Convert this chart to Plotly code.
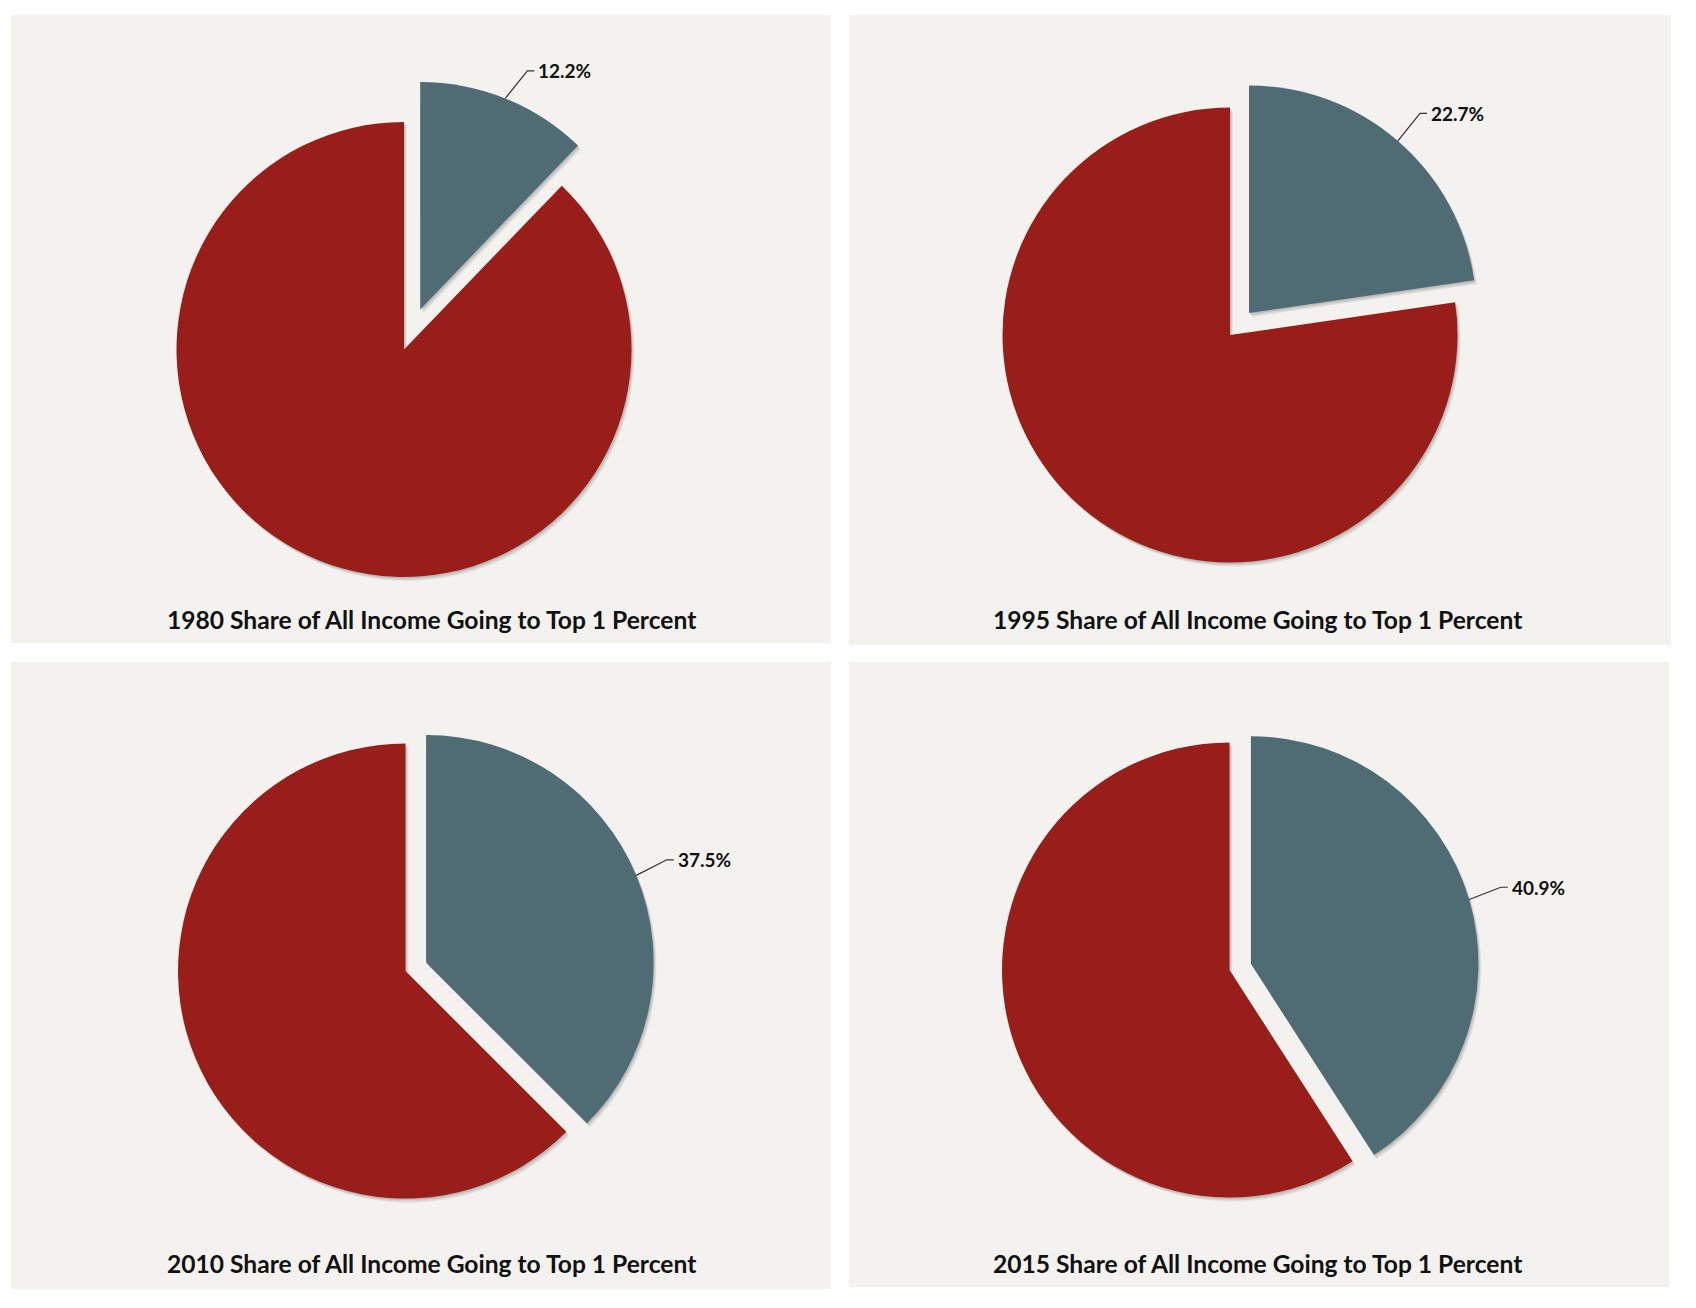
import math
import plotly.graph_objects as go

# ---- data ----
years = ["1980", "1995", "2010", "2015"]
top1_share = [12.2, 22.7, 37.5, 40.9]
rest_share = [87.8, 77.3, 62.5, 59.1]
slice_names = ["Top 1 Percent", "Everyone Else"]

# ---- layout (page pixels) ----
W, H = 1696, 1308
PAGE_OFFSET = 8  # default body margin of the html page
panels = [(11, 15, 831, 643), (849, 15, 1671, 645), (11, 662, 831, 1289), (849, 662, 1669, 1287)]
pie_centers = [(404, 349.5), (1230, 335), (405.5, 971), (1229.5, 970)]
radius = 227.5
pulls = [0.19, 0.128, 0.098, 0.098]
title_pos = [(432, 619), (1258, 619), (432, 1263), (1258, 1263)]

RED = "#991d18"
BLUE = "#4f6c75"
PANEL_BG = "#f3f2ee"
FONT = "Lato, 'Open Sans', sans-serif"

def px(x):
    return (x - PAGE_OFFSET) / W

def py(y):
    return 1 - (y - PAGE_OFFSET) / H

fig = go.Figure()
shapes = []
annotations = []

for i in range(4):
    x0, y0, x1, y1 = panels[i]
    shapes.append(dict(type="rect", xref="paper", yref="paper", layer="below",
                       x0=px(x0), x1=px(x1), y0=py(y1), y1=py(y0),
                       fillcolor=PANEL_BG, line=dict(width=0)))
    cx, cy = pie_centers[i]
    p = pulls[i]
    half = radius * (1 + p)
    vals = [top1_share[i], rest_share[i]]

    # soft shadow
    for (dx, dy, a) in [(3, 4, 0.06), (2, 3, 0.08), (1, 1.5, 0.10)]:
        fig.add_trace(go.Pie(
            values=vals, labels=slice_names, sort=False, direction="clockwise", rotation=0,
            pull=[p, 0], textinfo="none", hoverinfo="skip", showlegend=False,
            marker=dict(colors=[f"rgba(0,0,0,{a})"] * 2, line=dict(width=0)),
            domain=dict(x=[px(cx + dx - half), px(cx + dx + half)],
                        y=[py(cy + dy + half), py(cy + dy - half)]),
        ))

    fig.add_trace(go.Pie(
        values=vals, labels=slice_names, sort=False, direction="clockwise", rotation=0,
        pull=[p, 0], textinfo="none", showlegend=False,
        marker=dict(colors=[BLUE, RED], line=dict(width=0)),
        domain=dict(x=[px(cx - half), px(cx + half)], y=[py(cy + half), py(cy - half)]),
        name=years[i],
    ))

    # leader line + label for the top 1% slice
    mid = math.radians(360 * top1_share[i] / (top1_share[i] + rest_share[i]) / 2)
    bx = cx + p * radius * math.sin(mid)
    by = cy - p * radius * math.cos(mid)
    ax_ = bx + radius * math.sin(mid)
    ay_ = by - radius * math.cos(mid)
    phi = max(mid, math.radians(42))
    ex = ax_ + 33 * math.sin(phi)
    ey = ay_ - 33 * math.cos(phi) - 3
    hx = ex + 7
    shapes.append(dict(type="path", xref="paper", yref="paper",
                       path=f"M {px(ax_)},{py(ay_)} L {px(ex)},{py(ey)} L {px(hx)},{py(ey)}",
                       line=dict(color="#333333", width=1.2)))
    annotations.append(dict(xref="paper", yref="paper", x=px(hx + 2), y=py(ey),
                            xanchor="left", yanchor="middle", showarrow=False,
                            text=f"<b>{top1_share[i]:.1f}%</b>",
                            font=dict(family=FONT, size=19, color="#111111")))

    tx, ty = title_pos[i]
    annotations.append(dict(xref="paper", yref="paper", x=px(tx), y=py(ty),
                            xanchor="center", yanchor="middle", showarrow=False,
                            text=f"<b>{years[i]} Share of All Income Going to Top 1 Percent</b>",
                            font=dict(family=FONT, size=24.6, color="#111111")))

fig.update_layout(
    width=W, height=H,
    margin=dict(l=0, r=0, t=0, b=0),
    paper_bgcolor="white", plot_bgcolor="white",
    shapes=shapes, annotations=annotations,
    showlegend=False,
)

fig.write_html("out.html")
